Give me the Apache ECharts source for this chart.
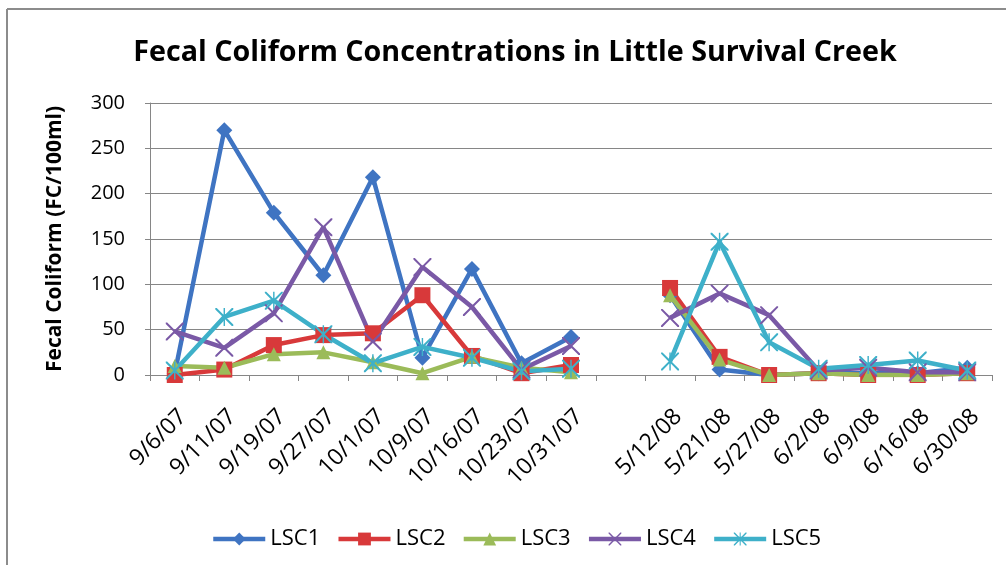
<!DOCTYPE html>
<html><head><meta charset="utf-8">
<script src="https://cdn.jsdelivr.net/npm/echarts@6/dist/echarts.min.js"></script>
<style>html,body{margin:0;padding:0;background:#fff;}#c{width:1006px;height:569px;}</style>
</head><body><div id="c"></div>
<script>
var categories = ['9/6/07','9/11/07','9/19/07','9/27/07','10/1/07','10/9/07','10/16/07','10/23/07','10/31/07','','5/12/08','5/21/08','5/27/08','6/2/08','6/9/08','6/16/08','6/30/08'];
var lsc1 = [2,270,179,110,218,19,117,13,42,null,88,6,0,2,2,2,8];
var lsc2 = [0,6,33,44,46,88,21,2,11,null,96,20,0,2,0,0,2];
var lsc3 = [10,8,23,25,14,2,20,8,3,null,88,17,0,2,0,0,2];
var lsc4 = [48,30,68,163,37,119,75,6,32,null,63,90,66,5,8,3,3];
var lsc5 = [5,64,82,45,13,31,19,4,7,null,15,147,36,7,11,16,5];
var yTicks = [0,50,100,150,200,250,300];

var xPath = 'path://M0,0L1.6,0L10,8.4L18.4,0L20,0L20,1.6L11.6,10L20,18.4L20,20L18.4,20L10,11.6L1.6,20L0,20L0,18.4L8.4,10L0,1.6Z';
var starPath = 'path://M0,0L1.6,0L10,8.4L18.4,0L20,0L20,1.6L11.6,10L20,18.4L20,20L18.4,20L10,11.6L1.6,20L0,20L0,18.4L8.4,10L0,1.6Z M9.2,0L10.8,0L10.8,20L9.2,20Z';

function mk(name, data, color, symbol, size) {
  return {
    name: name, type: 'line', data: data, connectNulls: false,
    symbol: symbol, symbolSize: size, showAllSymbol: true,
    lineStyle: {color: color, width: 4.5},
    itemStyle: {color: color, borderWidth: 0},
    emphasis: {disabled: true}
  };
}
var font = 'Open Sans';
var chart = echarts.init(document.getElementById('c'), null, {renderer: 'canvas'});
chart.setOption({
  animation: false,
  backgroundColor: '#fff',
  title: {text: 'Fecal Coliform Concentrations in Little Survival Creek', left: 510, top: 33, textAlign: 'center',
    textStyle: {fontFamily: font, fontWeight: 'bold', fontSize: 28.7, color: '#000'}},
  graphic: [
    {type: 'line', shape: {x1: 7, y1: 9, x2: 1006, y2: 9}, style: {stroke: '#8c8c8c', lineWidth: 2}},
    {type: 'line', shape: {x1: 7, y1: 9, x2: 7, y2: 565}, style: {stroke: '#8c8c8c', lineWidth: 2}}
  ],
  legend: {
    bottom: 14, left: 206, itemWidth: 52, itemHeight: 16, itemGap: 16,
    textStyle: {fontFamily: font, fontSize: 22, color: '#000'},
    lineStyle: {width: 4.5},
    data: ['LSC1','LSC2','LSC3','LSC4','LSC5']
  },
  grid: {left: 150, right: 14, top: 103, bottom: 194},
  xAxis: {
    type: 'category', data: categories, boundaryGap: true,
    axisLine: {lineStyle: {color: '#868686', width: 1}},
    axisTick: {show: true, alignWithLabel: false, interval: 0, length: 6, lineStyle: {color: '#868686'}},
    axisLabel: {interval: 0, rotate: 45, fontFamily: font, fontSize: 23, color: '#000', margin: 30, verticalAlign: 'top'},
    splitLine: {show: false}
  },
  yAxis: {
    type: 'value', min: 0, max: 300, interval: 50,
    name: 'Fecal Coliform (FC/100ml)', nameLocation: 'middle', nameGap: 84,
    nameTextStyle: {fontFamily: font, fontWeight: 'bold', fontSize: 21, color: '#000'},
    axisLine: {show: true, lineStyle: {color: '#868686'}},
    axisTick: {show: true, length: 5, lineStyle: {color: '#868686'}},
    axisLabel: {fontFamily: font, fontSize: 20, color: '#000', margin: 25,
      formatter: function (v) { return yTicks.indexOf(v) >= 0 ? String(v) : ''; }},
    splitLine: {lineStyle: {color: '#868686', width: 1}}
  },
  series: [
    mk('LSC1', lsc1, '#3f74c2', 'diamond', 16),
    mk('LSC2', lsc2, '#d8393a', 'rect', 16),
    mk('LSC3', lsc3, '#9bbb59', 'triangle', 14),
    mk('LSC4', lsc4, '#7a59a6', xPath, 18),
    mk('LSC5', lsc5, '#3eb0c9', starPath, 18)
  ]
});
</script></body></html>
